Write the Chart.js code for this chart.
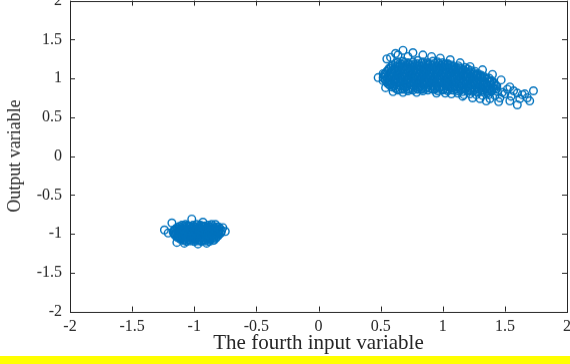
<!DOCTYPE html>
<html>
<head>
<meta charset="utf-8">
<script src="https://cdn.jsdelivr.net/npm/chart.js@4"></script>
<style>
  html, body { margin: 0; padding: 0; background: #fff; }
  #wrap { position: relative; width: 570px; height: 356px; overflow: hidden; }
  #wrap canvas { position: absolute; left: 0; top: 0; }
  #band { width: 570px; height: 8px; background: #ffff00; }
</style>
</head>
<body>
<div id="wrap"><canvas id="chart" width="600" height="400"></canvas></div>
<div id="band"></div>
<script>
var xTitle = "The fourth input variable";
var yTitle = "Output variable";
var axisMin = -2;
var axisMax = 2;
var tickStep = 0.5;
var markerColor = "#0072BD";

// upper cluster, around (1, 1)
var upperCluster = [
    [0.64,1.21],[0.68,1.22],[0.72,1.20],[0.76,1.21],[0.80,1.23],[0.84,1.21],[0.88,1.20],[0.92,1.22],[0.96,1.21],[1.00,1.20],[1.04,1.19],
    [0.62,1.19],[0.655,1.19],[0.69,1.20],[0.725,1.19],[0.76,1.18],[0.795,1.19],[0.83,1.20],[0.865,1.19],[0.90,1.18],[0.935,1.19],[0.97,1.19],[1.005,1.18],[1.04,1.18],[1.075,1.17],
    [0.60,1.17],[0.635,1.16],[0.67,1.18],[0.705,1.17],[0.74,1.16],[0.775,1.18],[0.81,1.17],[0.845,1.16],[0.88,1.18],[0.915,1.17],[0.95,1.16],[0.985,1.17],[1.02,1.16],[1.055,1.17],[1.09,1.15],[1.125,1.16],
    [0.585,1.15],[0.62,1.15],[0.655,1.16],[0.69,1.15],[0.725,1.14],[0.76,1.15],[0.795,1.16],[0.83,1.15],[0.865,1.14],[0.90,1.15],[0.935,1.15],[0.97,1.14],[1.005,1.15],[1.04,1.14],[1.075,1.15],[1.11,1.14],[1.145,1.13],[1.18,1.14],
    [0.57,1.13],[0.605,1.12],[0.64,1.14],[0.675,1.13],[0.71,1.12],[0.745,1.14],[0.78,1.13],[0.815,1.12],[0.85,1.13],[0.885,1.14],[0.92,1.12],[0.955,1.13],[0.99,1.14],[1.025,1.12],[1.06,1.13],[1.095,1.12],[1.13,1.13],[1.165,1.11],[1.20,1.12],
    [0.56,1.11],[0.595,1.10],[0.63,1.11],[0.665,1.11],[0.70,1.10],[0.735,1.11],[0.77,1.11],[0.805,1.10],[0.84,1.11],[0.875,1.12],[0.91,1.10],[0.945,1.11],[0.98,1.11],[1.015,1.10],[1.05,1.11],[1.085,1.11],[1.12,1.10],[1.155,1.10],[1.19,1.09],[1.225,1.10],[1.26,1.09],
    [0.55,1.09],[0.585,1.08],[0.62,1.10],[0.655,1.09],[0.69,1.08],[0.725,1.10],[0.76,1.09],[0.795,1.08],[0.83,1.09],[0.865,1.10],[0.90,1.08],[0.935,1.09],[0.97,1.10],[1.005,1.08],[1.04,1.09],[1.075,1.10],[1.11,1.08],[1.145,1.09],[1.18,1.07],[1.215,1.08],[1.25,1.07],[1.285,1.06],
    [0.54,1.07],[0.575,1.06],[0.61,1.07],[0.645,1.07],[0.68,1.06],[0.715,1.07],[0.75,1.07],[0.785,1.06],[0.82,1.07],[0.855,1.08],[0.89,1.06],[0.925,1.07],[0.96,1.07],[0.995,1.06],[1.03,1.07],[1.065,1.07],[1.10,1.06],[1.135,1.07],[1.17,1.06],[1.205,1.06],[1.24,1.05],[1.275,1.05],[1.31,1.04],
    [0.53,1.05],[0.565,1.04],[0.60,1.06],[0.635,1.05],[0.67,1.04],[0.705,1.06],[0.74,1.05],[0.775,1.04],[0.81,1.05],[0.845,1.06],[0.88,1.04],[0.915,1.05],[0.95,1.06],[0.985,1.04],[1.02,1.05],[1.055,1.06],[1.09,1.04],[1.125,1.05],[1.16,1.04],[1.195,1.05],[1.23,1.03],[1.265,1.04],[1.30,1.03],[1.335,1.02],
    [0.535,1.03],[0.57,1.02],[0.605,1.03],[0.64,1.03],[0.675,1.02],[0.71,1.03],[0.745,1.03],[0.78,1.02],[0.815,1.03],[0.85,1.04],[0.885,1.02],[0.92,1.03],[0.955,1.03],[0.99,1.02],[1.025,1.03],[1.06,1.03],[1.095,1.02],[1.13,1.03],[1.165,1.02],[1.20,1.02],[1.235,1.01],[1.27,1.02],[1.305,1.01],[1.34,1.00],[1.375,1.00],
    [0.52,1.01],[0.555,1.00],[0.59,1.02],[0.625,1.01],[0.66,1.00],[0.695,1.02],[0.73,1.01],[0.765,1.00],[0.80,1.01],[0.835,1.02],[0.87,1.00],[0.905,1.01],[0.94,1.02],[0.975,1.00],[1.01,1.01],[1.045,1.02],[1.08,1.00],[1.115,1.01],[1.15,1.00],[1.185,1.01],[1.22,0.99],[1.255,1.00],[1.29,0.99],[1.325,0.98],[1.36,0.99],[1.395,0.97],
    [0.535,0.99],[0.57,0.98],[0.605,0.99],[0.64,0.99],[0.675,0.98],[0.71,0.99],[0.745,0.99],[0.78,0.98],[0.815,0.99],[0.85,1.00],[0.885,0.98],[0.92,0.99],[0.955,0.99],[0.99,0.98],[1.025,0.99],[1.06,0.99],[1.095,0.98],[1.13,0.99],[1.165,0.98],[1.20,0.98],[1.235,0.97],[1.27,0.98],[1.305,0.97],[1.34,0.96],[1.375,0.97],[1.41,0.95],
    [0.54,0.97],[0.575,0.96],[0.61,0.98],[0.645,0.97],[0.68,0.96],[0.715,0.98],[0.75,0.97],[0.785,0.96],[0.82,0.97],[0.855,0.98],[0.89,0.96],[0.925,0.97],[0.96,0.98],[0.995,0.96],[1.03,0.97],[1.065,0.98],[1.10,0.96],[1.135,0.97],[1.17,0.96],[1.205,0.97],[1.24,0.95],[1.275,0.96],[1.31,0.95],[1.345,0.94],[1.38,0.95],[1.415,0.93],
    [0.55,0.95],[0.585,0.94],[0.62,0.95],[0.655,0.95],[0.69,0.94],[0.725,0.95],[0.76,0.95],[0.795,0.94],[0.83,0.95],[0.865,0.96],[0.90,0.94],[0.935,0.95],[0.97,0.95],[1.005,0.94],[1.04,0.95],[1.075,0.95],[1.11,0.94],[1.145,0.94],[1.18,0.94],[1.215,0.93],[1.25,0.94],[1.285,0.93],[1.32,0.93],[1.355,0.92],[1.39,0.92],[1.425,0.91],
    [0.56,0.93],[0.595,0.92],[0.63,0.94],[0.665,0.93],[0.70,0.92],[0.735,0.94],[0.77,0.93],[0.805,0.92],[0.84,0.93],[0.875,0.94],[0.91,0.92],[0.945,0.93],[0.98,0.94],[1.015,0.92],[1.05,0.93],[1.085,0.92],[1.12,0.93],[1.155,0.91],[1.19,0.92],[1.225,0.91],[1.26,0.92],[1.295,0.90],[1.33,0.91],[1.365,0.90],[1.40,0.89],[1.435,0.90],
    [0.575,0.91],[0.61,0.90],[0.645,0.91],[0.68,0.91],[0.715,0.90],[0.75,0.91],[0.785,0.91],[0.82,0.90],[0.855,0.91],[0.89,0.92],[0.925,0.90],[0.96,0.91],[0.995,0.90],[1.03,0.90],[1.065,0.91],[1.10,0.90],[1.135,0.90],[1.17,0.89],[1.205,0.90],[1.24,0.89],[1.275,0.89],[1.31,0.88],[1.345,0.88],[1.38,0.87],[1.415,0.87],
    [0.59,0.89],[0.625,0.88],[0.66,0.90],[0.695,0.89],[0.73,0.88],[0.765,0.90],[0.80,0.89],[0.835,0.88],[0.87,0.89],[0.905,0.90],[0.94,0.88],[0.975,0.89],[1.01,0.88],[1.045,0.89],[1.08,0.88],[1.115,0.89],[1.15,0.87],[1.185,0.88],[1.22,0.87],[1.255,0.88],[1.29,0.86],[1.325,0.87],[1.36,0.86],[1.395,0.85],[1.43,0.86],
    [0.62,0.87],[0.655,0.86],[0.69,0.87],[0.725,0.86],[0.76,0.87],[0.795,0.87],[0.83,0.86],[0.865,0.87],[0.90,0.87],[0.935,0.86],[0.97,0.87],[1.005,0.86],[1.04,0.86],[1.075,0.87],[1.11,0.86],[1.145,0.85],[1.18,0.86],[1.215,0.85],[1.25,0.85],[1.285,0.84],[1.32,0.85],[1.355,0.84],[1.39,0.83],
    [0.64,0.85],[0.68,0.86],[0.72,0.84],[0.76,0.85],[0.80,0.86],[0.84,0.84],[0.88,0.85],[0.92,0.86],[0.96,0.84],[1.00,0.85],[1.04,0.84],[1.08,0.85],[1.12,0.84],[1.16,0.83],[1.20,0.84],[1.24,0.83],[1.28,0.82],[1.32,0.83],[1.36,0.81],
    [1.02,0.81],[1.07,0.80],[1.12,0.81],[1.17,0.79],[1.22,0.80],[1.27,0.79],[1.32,0.78],[1.37,0.79]
];

// loose circles round the edge of the upper cluster
var upperFringe = [
    [0.68,1.36],[0.62,1.32],[0.58,1.27],[0.76,1.33],[0.84,1.30],[0.91,1.28],[0.98,1.26],[1.06,1.24],[1.14,1.20],[1.22,1.15],
    [1.32,1.11],[1.40,1.05],[1.47,0.98],[1.54,0.89],[0.48,1.01],[0.52,0.97],[0.54,0.88],[0.60,0.83],[0.68,0.82],[0.79,0.82],
    [0.95,0.81],[1.16,0.77],[1.24,0.75],[1.35,0.71],[1.46,0.75],[1.54,0.71],[1.60,0.66],[1.64,0.79],[1.73,0.84],[1.68,0.75],
    [1.70,0.71],[1.60,0.81],[1.50,0.80],[1.44,0.83],[1.52,0.86],[1.57,0.84],[0.55,1.25],[0.64,1.30],[0.72,1.28],[0.52,1.06],
    [1.30,0.74],[1.42,0.78],[1.48,0.82],[1.55,0.77],[1.62,0.74],[1.66,0.80],[1.45,0.70],[1.38,0.74]
];

// lower cluster, around (-1, -1)
var lowerCluster = [
    [-1.10,-0.89],[-1.07,-0.88],[-1.04,-0.90],[-1.01,-0.89],[-0.98,-0.88],[-0.95,-0.89],[-0.92,-0.90],[-0.89,-0.89],[-0.86,-0.88],
    [-1.12,-0.905],[-1.09,-0.905],[-1.06,-0.90],[-1.03,-0.905],[-1.00,-0.91],[-0.97,-0.905],[-0.94,-0.90],[-0.91,-0.905],[-0.88,-0.91],[-0.85,-0.905],[-0.82,-0.91],
    [-1.135,-0.92],[-1.105,-0.93],[-1.075,-0.92],[-1.045,-0.91],[-1.015,-0.92],[-0.985,-0.93],[-0.955,-0.92],[-0.925,-0.91],[-0.895,-0.92],[-0.865,-0.93],[-0.835,-0.92],[-0.805,-0.91],
    [-1.15,-0.935],[-1.12,-0.94],[-1.09,-0.935],[-1.06,-0.93],[-1.03,-0.935],[-1.00,-0.94],[-0.97,-0.935],[-0.94,-0.93],[-0.91,-0.935],[-0.88,-0.94],[-0.85,-0.935],[-0.82,-0.93],[-0.79,-0.935],
    [-1.16,-0.95],[-1.13,-0.96],[-1.10,-0.95],[-1.07,-0.94],[-1.04,-0.95],[-1.01,-0.96],[-0.98,-0.95],[-0.95,-0.94],[-0.92,-0.95],[-0.89,-0.96],[-0.86,-0.95],[-0.83,-0.94],[-0.80,-0.95],[-0.78,-0.96],
    [-1.16,-0.965],[-1.13,-0.97],[-1.10,-0.965],[-1.07,-0.96],[-1.04,-0.965],[-1.01,-0.97],[-0.98,-0.965],[-0.95,-0.96],[-0.92,-0.965],[-0.89,-0.97],[-0.86,-0.965],[-0.83,-0.96],[-0.80,-0.965],
    [-1.17,-0.98],[-1.145,-0.99],[-1.115,-0.98],[-1.085,-0.97],[-1.055,-0.98],[-1.025,-0.99],[-0.995,-0.98],[-0.965,-0.97],[-0.935,-0.98],[-0.905,-0.99],[-0.875,-0.98],[-0.845,-0.97],[-0.815,-0.98],[-0.785,-0.99],
    [-1.16,-0.995],[-1.13,-1.00],[-1.10,-0.995],[-1.07,-0.99],[-1.04,-0.995],[-1.01,-1.00],[-0.98,-0.995],[-0.95,-0.99],[-0.92,-0.995],[-0.89,-1.00],[-0.86,-0.995],[-0.83,-0.99],[-0.80,-0.995],
    [-1.16,-1.01],[-1.13,-1.02],[-1.10,-1.01],[-1.07,-1.00],[-1.04,-1.01],[-1.01,-1.02],[-0.98,-1.01],[-0.95,-1.00],[-0.92,-1.01],[-0.89,-1.02],[-0.86,-1.01],[-0.83,-1.00],[-0.80,-1.01],
    [-1.15,-1.025],[-1.12,-1.03],[-1.09,-1.025],[-1.06,-1.02],[-1.03,-1.025],[-1.00,-1.03],[-0.97,-1.025],[-0.94,-1.02],[-0.91,-1.025],[-0.88,-1.03],[-0.85,-1.025],[-0.82,-1.02],
    [-1.14,-1.04],[-1.11,-1.05],[-1.08,-1.04],[-1.05,-1.03],[-1.02,-1.04],[-0.99,-1.05],[-0.96,-1.04],[-0.93,-1.03],[-0.90,-1.04],[-0.87,-1.05],[-0.84,-1.04],[-0.81,-1.03],
    [-1.125,-1.055],[-1.095,-1.06],[-1.065,-1.055],[-1.035,-1.05],[-1.005,-1.055],[-0.975,-1.06],[-0.945,-1.055],[-0.915,-1.05],[-0.885,-1.055],[-0.855,-1.06],[-0.825,-1.055],
    [-1.11,-1.07],[-1.08,-1.08],[-1.05,-1.07],[-1.02,-1.06],[-0.99,-1.07],[-0.96,-1.08],[-0.93,-1.07],[-0.90,-1.06],[-0.87,-1.07],[-0.84,-1.08],
    [-1.09,-1.085],[-1.06,-1.09],[-1.03,-1.085],[-1.00,-1.08],[-0.97,-1.085],[-0.94,-1.09],[-0.91,-1.085],[-0.88,-1.08],[-0.85,-1.085],
    [-1.06,-1.10],[-1.03,-1.09],[-1.00,-1.10],[-0.97,-1.09],[-0.94,-1.10],[-0.91,-1.09],[-0.88,-1.10]
];

var lowerFringe = [
    [-1.18,-0.86],[-1.02,-0.81],[-1.24,-0.95],[-0.77,-0.92],[-0.83,-0.88],[-0.90,-1.12],[-1.14,-1.11],[-1.21,-0.99],
    [-0.75,-0.97],[-0.97,-1.13],[-1.08,-1.12],[-0.93,-0.85]
];

function toPoints(list) {
    return list.map(function (p) { return { x: p[0], y: p[1] }; });
}

// box round the plot and inward ticks on all four sides, like a MATLAB axes
var boxTicks = {
    id: "boxTicks",
    afterDraw: function (chart) {
        var ctx = chart.ctx;
        var a = chart.chartArea;
        var xs = chart.scales.x;
        var ys = chart.scales.y;
        var len = 5;
        ctx.save();
        ctx.strokeStyle = "#262626";
        ctx.lineWidth = 1;
        ctx.strokeRect(Math.round(a.left) + 0.5, Math.round(a.top) + 0.5,
            Math.round(a.right - a.left), Math.round(a.bottom - a.top));
        ctx.beginPath();
        xs.ticks.forEach(function (t) {
            var px = Math.round(xs.getPixelForValue(t.value)) + 0.5;
            ctx.moveTo(px, a.bottom); ctx.lineTo(px, a.bottom - len);
            ctx.moveTo(px, a.top); ctx.lineTo(px, a.top + len);
        });
        ys.ticks.forEach(function (t) {
            var py = Math.round(ys.getPixelForValue(t.value)) + 0.5;
            ctx.moveTo(a.left, py); ctx.lineTo(a.left + len, py);
            ctx.moveTo(a.right, py); ctx.lineTo(a.right - len, py);
        });
        ctx.stroke();
        ctx.restore();
    }
};

var serif = "'Liberation Serif', 'Times New Roman', serif";
var tickFont = { family: serif, size: 16 };

function tickText(v) {
    return String(Math.round(v * 10) / 10);
}

var canvas = document.getElementById("chart");
var chart = new Chart(canvas, {
    type: "scatter",
    data: {
        datasets: [{
            data: toPoints(upperCluster.concat(upperFringe, lowerCluster, lowerFringe)),
            pointStyle: "circle",
            pointRadius: 3.8,
            pointBorderWidth: 1.4,
            pointBorderColor: markerColor,
            pointBackgroundColor: "rgba(0,0,0,0)",
            pointHoverRadius: 3.8
        }]
    },
    plugins: [boxTicks],
    options: {
        responsive: false,
        maintainAspectRatio: false,
        animation: false,
        devicePixelRatio: 1,
        layout: { padding: 0 },
        plugins: { legend: { display: false }, tooltip: { enabled: false } },
        scales: {
            x: {
                type: "linear",
                min: axisMin,
                max: axisMax,
                afterFit: function (s) { s.height = 45; },
                grid: { display: false, drawTicks: false },
                border: { display: false },
                ticks: { stepSize: tickStep, padding: 6, color: "#262626", font: tickFont, maxRotation: 0, callback: tickText },
                title: {
                    display: true,
                    text: xTitle,
                    color: "#262626",
                    font: { family: serif, size: 21 },
                    padding: { top: 0, bottom: 1 }
                }
            },
            y: {
                type: "linear",
                min: axisMin,
                max: axisMax,
                afterFit: function (s) { s.width = 70; },
                grid: { display: false, drawTicks: false },
                border: { display: false },
                ticks: { stepSize: tickStep, padding: 8, color: "#262626", font: tickFont, callback: tickText },
                title: {
                    display: true,
                    text: yTitle,
                    color: "#262626",
                    font: { family: serif, size: 18 },
                    padding: { top: 4, bottom: 0 }
                }
            }
        }
    }
});

// size the canvas so the plot box is 497 x 310 and sits at (70, 1), as in the figure
for (var i = 0; i < 2; i++) {
    var a = chart.chartArea;
    chart.resize(chart.width + 497 - (a.right - a.left), chart.height + 310 - (a.bottom - a.top));
}
var area = chart.chartArea;
canvas.style.left = (70 - area.left) + "px";
canvas.style.top = (1 - area.top) + "px";
</script>
</body>
</html>
